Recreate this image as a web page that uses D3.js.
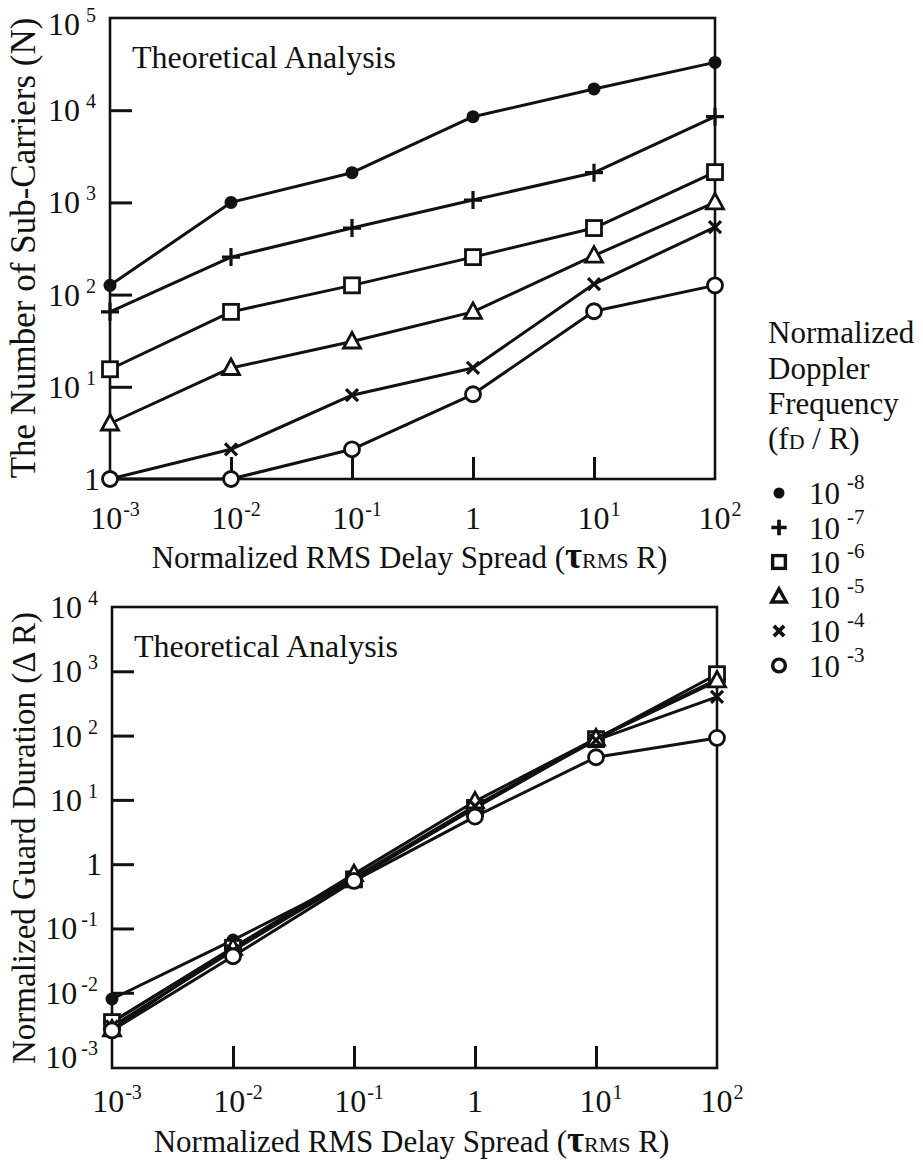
<!DOCTYPE html>
<html>
<head>
<meta charset="utf-8">
<script src="https://cdn.jsdelivr.net/npm/d3@7"></script>
<style>
  html, body { margin: 0; padding: 0; background: #fff; }
  svg { display: block; }
  svg text { font-family: "Liberation Serif", "Times New Roman", Times, "DejaVu Serif", serif; fill: #111; }
</style>
</head>
<body>
<svg id="chart" width="923" height="1162" font-family="Liberation Serif, Times New Roman, serif"></svg>
<script>
// ---------- data ----------
const delaySpread = [1e-3, 1e-2, 1e-1, 1, 10, 100];
const dopplerExp = ["-8", "-7", "-6", "-5", "-4", "-3"];
const symbolsOrder = ["dot", "plus", "square", "triangle", "cross", "circle"];

// Number of sub-carriers N
const carriersFd8 = [126, 1000, 2100, 8500, 17000, 33000];
const carriersFd7 = [65, 255, 527, 1060, 2100, 8500];
const carriersFd6 = [15.5, 65, 126, 255, 527, 2130];
const carriersFd5 = [4.0, 16, 31, 65, 265, 1000];
const carriersFd4 = [1, 2.1, 8.1, 16, 130, 540];
const carriersFd3 = [1, 1, 2.1, 8.3, 66, 126];

// Normalized guard duration (Delta R)
const guardFd8 = [0.008, 0.066, 0.6, 7.5, 90, 700];
const guardFd7 = [0.0035, 0.05, 0.6, 8, 90, 750];
const guardFd6 = [0.0035, 0.05, 0.58, 7.5, 88, 900];
const guardFd5 = [0.0027, 0.05, 0.7, 9.5, 90, 720];
const guardFd4 = [0.003, 0.045, 0.62, 8, 85, 400];
const guardFd3 = [0.0026, 0.037, 0.55, 5.5, 46, 92];

const xTickLabels = [["10","-3"],["10","-2"],["10","-1"],["1",""],["10","1"],["10","2"]];
const topYTicks = [1, 10, 100, 1e3, 1e4, 1e5];
const topYTickLabels = [["1",""],["10","1"],["10","2"],["10","3"],["10","4"],["10","5"]];
const botYTicks = [1e-3, 1e-2, 1e-1, 1, 10, 100, 1e3, 1e4];
const botYTickLabels = [["10","-3"],["10","-2"],["10","-1"],["1",""],["10","1"],["10","2"],["10","3"],["10","4"]];

const carriersSeries = [carriersFd8, carriersFd7, carriersFd6, carriersFd5, carriersFd4, carriersFd3];
const guardSeries = [guardFd8, guardFd7, guardFd6, guardFd5, guardFd4, guardFd3];

// ---------- drawing ----------
const svg = d3.select("#chart");

function drawSymbol(g, type, x, y, scale, sw) {
  const s = scale || 1;
  sw = sw || 2.8;
  const grp = g.append("g").attr("transform", `translate(${x},${y}) scale(${s})`);
  switch (type) {
    case "dot":
      grp.append("circle").attr("r", 6.5).attr("fill", "#111");
      break;
    case "plus":
      grp.append("path").attr("d", "M-9,0H9M0,-9V9").attr("stroke", "#111").attr("stroke-width", sw + 0.4).attr("fill", "none");
      break;
    case "square":
      grp.append("rect").attr("x", -7.5).attr("y", -7.5).attr("width", 15).attr("height", 15)
        .attr("fill", "#fff").attr("stroke", "#111").attr("stroke-width", sw);
      break;
    case "triangle":
      grp.append("path").attr("d", "M0,-9L8.5,6.5L-8.5,6.5Z").attr("fill", "#fff")
        .attr("stroke", "#111").attr("stroke-width", sw).attr("stroke-linejoin", "miter");
      break;
    case "cross":
      grp.append("path").attr("d", "M-6,-6L6,6M-6,6L6,-6").attr("stroke", "#111").attr("stroke-width", sw + 0.4).attr("fill", "none");
      break;
    case "circle":
      grp.append("circle").attr("r", 7.5).attr("fill", "#fff").attr("stroke", "#111").attr("stroke-width", sw);
      break;
  }
}

function powLabel(g, x, y, base, exp, anchor, baseSize, expSize, gap) {
  const t = g.append("text").attr("x", x).attr("y", y).attr("text-anchor", anchor)
    .style("font-size", baseSize + "px");
  t.append("tspan").text(base);
  if (exp) {
    t.append("tspan").attr("dx", gap).attr("dy", -baseSize * 0.42).style("font-size", expSize + "px").text(exp);
  }
  return t;
}

function panel(opts) {
  const { left, right, top, bottom, yDomain, series, yTicks, yTickLabels, yInnerTicks, yTitle, yTitleY, yTitleSize, xLabelY, xTitleY } = opts;
  const g = svg.append("g");
  const x = d3.scaleLog().domain([1e-3, 100]).range([left, right]);
  const y = d3.scaleLog().domain(yDomain).range([bottom, top]);

  // frame
  g.append("rect").attr("x", left).attr("y", top).attr("width", right - left).attr("height", bottom - top)
    .attr("fill", "none").attr("stroke", "#111").attr("stroke-width", 2.6);

  // inward ticks on x
  const xAxis = d3.axisTop(x).tickValues(delaySpread.slice(1, 5)).tickSize(22).tickFormat("");
  g.append("g").attr("transform", `translate(0,${bottom})`).call(xAxis)
    .call(a => a.select(".domain").remove())
    .call(a => a.selectAll("line").attr("stroke", "#111").attr("stroke-width", 3));

  // inward ticks on y
  const yAxis = d3.axisRight(y).tickValues(yInnerTicks).tickSize(22).tickFormat("");
  g.append("g").attr("transform", `translate(${left},0)`).call(yAxis)
    .call(a => a.select(".domain").remove())
    .call(a => a.selectAll("line").attr("stroke", "#111").attr("stroke-width", 3));

  // x tick labels
  delaySpread.forEach((v, i) => {
    const [b, e] = xTickLabels[i];
    const xx = x(v) + (e ? 5 : 0);
    powLabel(g, xx, xLabelY, b, e, "middle", 32, 20, 1);
  });

  // y tick labels
  yTicks.forEach((v, i) => {
    const [b, e] = yTickLabels[i];
    const baseY = Math.max(y(v) + 11, 35);
    const t = g.append("text").attr("x", left - 10).attr("y", baseY).attr("text-anchor", "end").style("font-size", "32px");
    t.append("tspan").text(b);
    if (e) {
      t.append("tspan").attr("dx", e.length > 1 ? 4 : 6).attr("dy", -13).style("font-size", "20px").text(e);
      t.append("tspan").attr("dy", 13).style("font-size", "20px").text("\u2009");
    }
  });

  // "Theoretical Analysis"
  g.append("text").attr("x", left + 22).attr("y", top + 50).style("font-size", "32px").text("Theoretical Analysis");

  // lines
  const line = d3.line().x((d, i) => x(delaySpread[i])).y(d => y(d));
  series.forEach((s) => {
    g.append("path").datum(s).attr("d", line).attr("fill", "none")
      .attr("stroke", "#111").attr("stroke-width", 3).attr("stroke-linejoin", "round");
  });
  // markers
  series.forEach((s, k) => {
    s.forEach((v, i) => drawSymbol(g, symbolsOrder[k], x(delaySpread[i]), y(v)));
  });

  // y title
  g.append("text").attr("transform", `translate(35,${yTitleY}) rotate(-90)`).attr("text-anchor", "middle")
    .style("font-size", yTitleSize + "px").text(yTitle);

  // x title
  const xt = g.append("text").attr("x", (left + right) / 2 - 3).attr("y", xTitleY).attr("text-anchor", "middle").style("font-size", "31px");
  xt.append("tspan").text("Normalized RMS Delay Spread (");
  xt.append("tspan").style("font-size", "37px").style("font-weight", "bold").text("\u03C4");
  xt.append("tspan").style("font-size", "22px").text("RMS");
  xt.append("tspan").text(" R)");
}

panel({
  left: 110, right: 715, top: 18, bottom: 479,
  yDomain: [1, 1e5], series: carriersSeries,
  yTicks: topYTicks, yTickLabels: topYTickLabels, yInnerTicks: [10, 100, 1e3, 1e4],
  yTitle: "The Number of Sub-Carriers (N)", yTitleY: 248, yTitleSize: 35,
  xLabelY: 529, xTitleY: 568
});

panel({
  left: 112, right: 717, top: 607, bottom: 1068,
  yDomain: [Math.pow(10, -3.17), 1e4], series: guardSeries,
  yTicks: botYTicks, yTickLabels: botYTickLabels, yInnerTicks: [1e-2, 1e-1, 1, 10, 100, 1e3],
  yTitle: "Normalized Guard Duration (\u0394 R)", yTitleY: 838, yTitleSize: 33,
  xLabelY: 1112, xTitleY: 1152
});

// ---------- legend ----------
const lg = svg.append("g");
const legendTitle = ["Normalized", "Doppler", "Frequency"];
legendTitle.forEach((t, i) => {
  lg.append("text").attr("x", 768).attr("y", 343 + i * 35.5).style("font-size", "31px").text(t);
});
const lt = lg.append("text").attr("x", 768).attr("y", 449).style("font-size", "31px");
lt.append("tspan").text("(f");
lt.append("tspan").style("font-size", "22px").text("D");
lt.append("tspan").text(" / R)");

dopplerExp.forEach((e, i) => {
  const cy = 493 + i * 34.5;
  drawSymbol(lg, symbolsOrder[i], 779, cy, 0.85, 4);
  const t = lg.append("text").attr("x", 809).attr("y", cy + 11).style("font-size", "31px");
  t.append("tspan").text("10");
  t.append("tspan").attr("dx", 7).attr("dy", -15).style("font-size", "21px").text(e);
});
</script>
</body>
</html>
